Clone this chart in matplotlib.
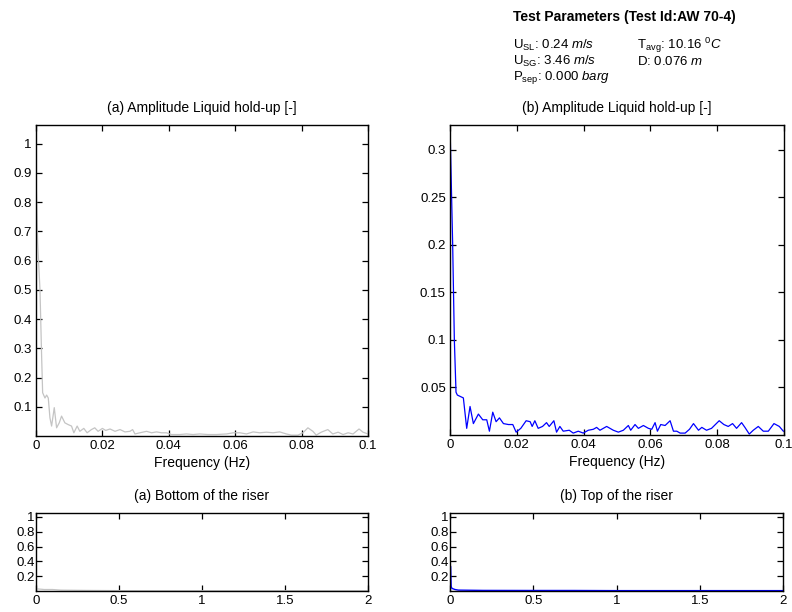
import matplotlib
matplotlib.use("Agg")
import matplotlib.pyplot as plt
from matplotlib.ticker import FixedLocator, FuncFormatter

plt.rcParams['font.family'] = ['Liberation Sans', 'DejaVu Sans']
plt.rcParams['mathtext.fontset'] = 'custom'
plt.rcParams['mathtext.rm'] = 'Liberation Sans'
plt.rcParams['mathtext.it'] = 'Liberation Sans:italic'
plt.rcParams['mathtext.sf'] = 'Liberation Sans'

# ---------------- data ----------------
freq_bottom_a = [0.0, 0.0005, 0.0012, 0.0017, 0.0020, 0.0027, 0.0032, 0.0037, 0.0042, 0.0047,
                 0.0055, 0.0062, 0.0070, 0.0077, 0.0087, 0.0097, 0.0107, 0.0114, 0.0124, 0.0132,
                 0.0144, 0.0154, 0.0167, 0.0177, 0.0187, 0.0200, 0.0210, 0.0223, 0.0238, 0.0253,
                 0.0268, 0.0283, 0.0291, 0.0298, 0.0313, 0.0333, 0.0348, 0.0363, 0.0378, 0.0393,
                 0.0408, 0.0433, 0.0453, 0.0473, 0.0493, 0.0518, 0.0543, 0.0574, 0.0594, 0.0614,
                 0.0634, 0.0654, 0.0674, 0.0694, 0.0714, 0.0734, 0.0754, 0.0769, 0.0789, 0.0804,
                 0.0819, 0.0834, 0.0844, 0.0859, 0.0879, 0.0894, 0.0910, 0.0925, 0.0940, 0.0955,
                 0.0973, 0.0985, 0.1000]
amp_bottom_a = [0.89, 0.66, 0.50, 0.27, 0.148, 0.13, 0.14, 0.13, 0.062, 0.034,
                0.097, 0.028, 0.045, 0.068, 0.045, 0.039, 0.034, 0.011, 0.034, 0.016,
                0.026, 0.011, 0.022, 0.028, 0.016, 0.026, 0.019, 0.024, 0.016, 0.022,
                0.014, 0.016, 0.022, 0.007, 0.011, 0.016, 0.011, 0.014, 0.011, 0.011,
                0.005, 0.005, 0.007, 0.005, 0.007, 0.005, 0.005, 0.007, 0.011, 0.011,
                0.007, 0.014, 0.011, 0.013, 0.011, 0.014, 0.007, 0.003, 0.003, 0.011,
                0.028, 0.016, 0.003, 0.013, 0.022, 0.007, 0.013, 0.005, 0.011, 0.007,
                0.024, 0.013, 0.007]

freq_top_b = [0.0, 0.0008, 0.0013, 0.0018, 0.0022, 0.0040, 0.0050, 0.0060, 0.0070, 0.0085,
              0.0098, 0.0110, 0.0118, 0.0128, 0.0138, 0.0148, 0.0160, 0.0175, 0.0188, 0.0198,
              0.0212, 0.0228, 0.0240, 0.0246, 0.0254, 0.0264, 0.0277, 0.0289, 0.0297, 0.0311,
              0.0319, 0.0329, 0.0339, 0.0357, 0.0369, 0.0384, 0.0399, 0.0414, 0.0429, 0.0439,
              0.0449, 0.0469, 0.0489, 0.0504, 0.0519, 0.0534, 0.0541, 0.0554, 0.0564, 0.0579,
              0.0594, 0.0604, 0.0614, 0.0621, 0.0631, 0.0644, 0.0659, 0.0669, 0.0679, 0.0689,
              0.0704, 0.0717, 0.0729, 0.0744, 0.0754, 0.0768, 0.0783, 0.0806, 0.0820, 0.0833,
              0.0846, 0.0858, 0.0873, 0.0883, 0.0896, 0.0908, 0.0923, 0.0938, 0.0953, 0.0970,
              0.0986, 0.0998]
amp_top_b = [0.326, 0.20, 0.10, 0.045, 0.042, 0.039, 0.007, 0.030, 0.012, 0.022,
             0.016, 0.016, 0.004, 0.024, 0.014, 0.018, 0.012, 0.011, 0.011, 0.003,
             0.007, 0.015, 0.014, 0.009, 0.015, 0.007, 0.009, 0.013, 0.009, 0.015,
             0.003, 0.009, 0.004, 0.005, 0.002, 0.004, 0.002, 0.005, 0.006, 0.008,
             0.005, 0.009, 0.005, 0.003, 0.005, 0.010, 0.005, 0.011, 0.007, 0.010,
             0.007, 0.006, 0.013, 0.004, 0.011, 0.010, 0.015, 0.004, 0.004, 0.002,
             0.002, 0.006, 0.012, 0.005, 0.008, 0.005, 0.007, 0.015, 0.011, 0.009,
             0.012, 0.007, 0.013, 0.008, 0.001, 0.005, 0.009, 0.004, 0.004, 0.012,
             0.009, 0.004]

freq_wide_a = [0.0, 0.05, 0.10, 0.15, 0.30, 0.50, 1.0, 1.5, 2.0]
amp_wide_a = [0.03, 0.02, 0.02, 0.012, 0.008, 0.005, 0.004, 0.004, 0.004]

freq_wide_b = [0.0, 0.004, 0.007, 0.012, 0.03, 0.05, 0.2, 0.5, 0.74, 1.0, 1.5, 2.0]
amp_wide_b = [0.35, 0.33, 0.06, 0.035, 0.02, 0.012, 0.008, 0.007, 0.007, 0.005, 0.005, 0.005]

yticks_a = [0.1, 0.2, 0.3, 0.4, 0.5, 0.6, 0.7, 0.8, 0.9, 1.0]
yticks_b = [0.05, 0.1, 0.15, 0.2, 0.25, 0.3]
xticks_zoom = [0, 0.02, 0.04, 0.06, 0.08, 0.1]
yticks_wide = [0.2, 0.4, 0.6, 0.8, 1.0]
xticks_wide = [0, 0.5, 1, 1.5, 2]

gray = '#c4c4c4'
blue = '#0000ff'
fs = 10
tfs = 9.5
pfs = 9.5

W, H = 792, 612
fig = plt.figure(figsize=(W / 100, H / 100), dpi=100)


def ax_at(l, t, r, b):
    return fig.add_axes([l / W, 1 - b / H, (r - l) / W, (b - t) / H])


fmt = FuncFormatter(lambda v, p: ('%g' % v))


def style(ax, xt, yt):
    ax.xaxis.set_major_locator(FixedLocator(xt))
    ax.yaxis.set_major_locator(FixedLocator(yt))
    ax.xaxis.set_major_formatter(fmt)
    ax.yaxis.set_major_formatter(fmt)
    ax.tick_params(direction='in', length=4, width=0.9, top=True, right=True,
                   labelsize=tfs, pad=3, colors='black')
    for s in ax.spines.values():
        s.set_linewidth(1.0)


ax1 = ax_at(36, 125, 368, 436)
ax1.plot(freq_bottom_a, amp_bottom_a, color=gray, lw=0.9)
ax1.set_xlim(0, 0.1)
ax1.set_ylim(0, 1.064)
style(ax1, xticks_zoom, yticks_a)
ax1.set_xlabel('Frequency (Hz)', fontsize=fs, labelpad=3)

ax2 = ax_at(450, 125, 784, 435)
ax2.plot(freq_top_b, amp_top_b, color=blue, lw=0.9)
ax2.set_xlim(0, 0.1)
ax2.set_ylim(0, 0.326)
style(ax2, xticks_zoom, yticks_b)
ax2.set_xlabel('Frequency (Hz)', fontsize=fs, labelpad=3)

ax3 = ax_at(36, 513, 368, 591)
ax3.plot(freq_wide_a, amp_wide_a, color=gray, lw=0.9)
ax3.set_xlim(0, 2)
ax3.set_ylim(0, 1.054)
style(ax3, xticks_wide, yticks_wide)
ax3.tick_params(axis='y', pad=1)

ax4 = ax_at(450, 513, 783, 591)
ax4.plot(freq_wide_b, amp_wide_b, color=blue, lw=1.0)
ax4.set_xlim(0, 2)
ax4.set_ylim(0, 1.054)
style(ax4, xticks_wide, yticks_wide)
ax4.tick_params(axis='y', pad=1)

# titles
fig.text(202 / W, 1 - 108 / H, '(a) Amplitude Liquid hold-up [-]', ha='center', va='center', fontsize=fs)
fig.text(617 / W, 1 - 108 / H, '(b) Amplitude Liquid hold-up [-]', ha='center', va='center', fontsize=fs)
fig.text(202 / W, 1 - 496 / H, '(a) Bottom of the riser', ha='center', va='center', fontsize=fs)
fig.text(617 / W, 1 - 496 / H, '(b) Top of the riser', ha='center', va='center', fontsize=fs)

# test parameters block
fig.text(513 / W, 1 - 17 / H, 'Test Parameters (Test Id:AW 70-4)', ha='left', va='center',
         fontsize=fs, fontweight='bold')
fig.text(513 / W, 1 - 45 / H, r'U$_{\mathrm{SL}}$: 0.24 $\it{m/s}$', ha='left', va='center', fontsize=pfs)
fig.text(513 / W, 1 - 61.5 / H, r'U$_{\mathrm{SG}}$: 3.46 $\it{m/s}$', ha='left', va='center', fontsize=pfs)
fig.text(513 / W, 1 - 78 / H, r'P$_{\mathrm{sep}}$: 0.000 $\it{barg}$', ha='left', va='center', fontsize=pfs)
fig.text(637 / W, 1 - 45 / H, r'T$_{\mathrm{avg}}$: 10.16 $^{\it{0}}\it{C}$', ha='left', va='center', fontsize=pfs)
fig.text(637 / W, 1 - 61.5 / H, r'D: 0.076 $\it{m}$', ha='left', va='center', fontsize=pfs)

fig.savefig('out.png', dpi=100)
